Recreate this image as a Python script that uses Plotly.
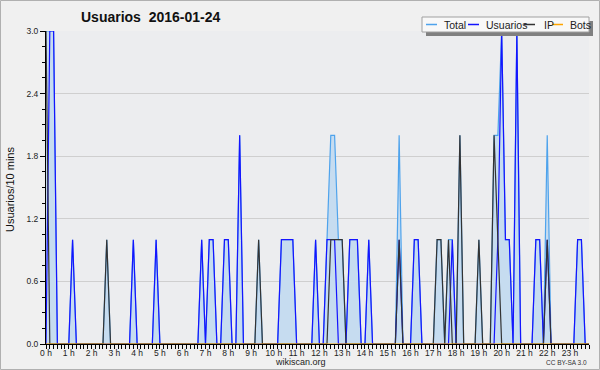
import plotly.graph_objects as go

# 10-minute slots for 2016-01-24 (144 slots, 00:00 .. 23:50)
total = [
    3, 3, 3, 0, 0, 0, 0, 1, 0, 0, 0, 0,
    0, 0, 0, 0, 1, 0, 0, 0, 0, 0, 0, 1,
    0, 0, 0, 0, 0, 1, 0, 0, 0, 0, 0, 0,
    0, 0, 0, 0, 0, 1, 0, 1, 1, 0, 0, 1,
    1, 0, 0, 2, 0, 0, 0, 0, 1, 0, 0, 0,
    0, 0, 1, 1, 1, 1, 0, 0, 0, 0, 0, 1,
    0, 0, 1, 2, 2, 1, 1, 0, 1, 1, 1, 0,
    0, 1, 0, 0, 0, 0, 0, 0, 0, 2, 0, 0,
    0, 1, 1, 0, 0, 0, 0, 1, 1, 0, 1, 1,
    0, 2, 0, 0, 0, 0, 1, 0, 0, 0, 2, 2,
    3, 1, 1, 0, 3, 0, 0, 0, 0, 1, 1, 0,
    2, 0, 0, 0, 0, 0, 0, 0, 1, 1, 0, 0,
]
usuarios = [
    0, 3, 3, 0, 0, 0, 0, 1, 0, 0, 0, 0,
    0, 0, 0, 0, 0, 0, 0, 0, 0, 0, 0, 1,
    0, 0, 0, 0, 0, 1, 0, 0, 0, 0, 0, 0,
    0, 0, 0, 0, 0, 1, 0, 1, 1, 0, 0, 1,
    1, 0, 0, 2, 0, 0, 0, 0, 0, 0, 0, 0,
    0, 0, 1, 1, 1, 1, 0, 0, 0, 0, 0, 1,
    0, 0, 1, 1, 1, 0, 0, 0, 1, 1, 1, 0,
    0, 1, 0, 0, 0, 0, 0, 0, 0, 1, 0, 0,
    0, 1, 1, 0, 0, 0, 0, 0, 0, 0, 0, 1,
    0, 0, 0, 0, 0, 0, 0, 0, 0, 0, 0, 1,
    3, 1, 1, 0, 3, 0, 0, 0, 0, 1, 1, 0,
    1, 0, 0, 0, 0, 0, 0, 0, 1, 1, 0, 0,
]
ip = [
    3, 0, 0, 0, 0, 0, 0, 0, 0, 0, 0, 0,
    0, 0, 0, 0, 1, 0, 0, 0, 0, 0, 0, 0,
    0, 0, 0, 0, 0, 0, 0, 0, 0, 0, 0, 0,
    0, 0, 0, 0, 0, 0, 0, 0, 0, 0, 0, 0,
    0, 0, 0, 0, 0, 0, 0, 0, 1, 0, 0, 0,
    0, 0, 0, 0, 0, 0, 0, 0, 0, 0, 0, 0,
    0, 0, 0, 1, 1, 1, 1, 0, 0, 0, 0, 0,
    0, 0, 0, 0, 0, 0, 0, 0, 0, 1, 0, 0,
    0, 0, 0, 0, 0, 0, 0, 1, 1, 0, 1, 0,
    0, 2, 0, 0, 0, 0, 1, 0, 0, 0, 2, 1,
    0, 0, 0, 0, 0, 0, 0, 0, 0, 0, 0, 0,
    1, 0, 0, 0, 0, 0, 0, 0, 0, 0, 0, 0,
]
bots = [0] * 144

hours = [i / 6 for i in range(len(total))]

title_text = "Usuarios\u00a0\u00a02016-01-24"
y_title = "Usuarios/10 mins"
series_names = ["Total", "Usuarios", "IP", "Bots"]
series_colors = ["#4ea3ec", "#1414ff", "#333333", "#ffa500"]

FONT = "Liberation Sans"

fig = go.Figure()
fig.add_trace(go.Scatter(x=hours, y=total, mode="lines", name="Total",
                         line=dict(color=series_colors[0], width=1.2),
                         fill="tozeroy", fillcolor="#c6dcf0"))
fig.add_trace(go.Scatter(x=hours, y=usuarios, mode="lines", name="Usuarios",
                         line=dict(color=series_colors[1], width=1.2)))
fig.add_trace(go.Scatter(x=hours, y=ip, mode="lines", name="IP",
                         line=dict(color=series_colors[2], width=1.2)))
fig.add_trace(go.Scatter(x=hours, y=bots, mode="lines", name="Bots",
                         line=dict(color=series_colors[3], width=1.2)))

# plot area in pixels
L, R, T, B = 46, 589, 31, 344
W, H = 600, 370


def px(x):
    return (x - L) / (R - L)


def py(y):
    return (B - y) / (B - T)


shapes = []
annotations = []

# outer border
shapes.append(dict(type="rect", xref="paper", yref="paper",
                   x0=px(0.5), x1=px(599.5), y0=py(0.5), y1=py(369.5),
                   line=dict(color="#b0b0b0", width=1), layer="below"))

# legend shadow and box
shapes.append(dict(type="rect", xref="paper", yref="paper",
                   x0=px(426), x1=px(593), y0=py(21), y1=py(36),
                   fillcolor="#808080", line=dict(width=0)))
shapes.append(dict(type="rect", xref="paper", yref="paper",
                   x0=px(422), x1=px(589), y0=py(17), y1=py(32),
                   fillcolor="#f8f8f8", line=dict(color="#a0a0a0", width=1)))
leg_items = [(426, 442), (468, 484), (524, 541.5), (552, 567.5)]
for (lx, tx), name, col in zip(leg_items, series_names, series_colors):
    shapes.append(dict(type="line", xref="paper", yref="paper",
                       x0=px(lx), x1=px(lx + 11), y0=py(24.5), y1=py(24.5),
                       line=dict(color=col, width=1.5)))
    annotations.append(dict(xref="paper", yref="paper", x=px(tx), y=py(24.5),
                            text=name, showarrow=False, xanchor="left",
                            yanchor="middle",
                            font=dict(family=FONT, size=10.5, color="#222")))

# title
annotations.append(dict(xref="paper", yref="paper", x=px(151), y=py(17),
                        text="<b>" + title_text + "</b>", showarrow=False,
                        xanchor="center", yanchor="middle",
                        font=dict(family=FONT, size=14, color="#111")))
# y axis title
annotations.append(dict(xref="paper", yref="paper", x=px(10), y=py(190),
                        text=y_title, showarrow=False, textangle=-90,
                        xanchor="center", yanchor="middle",
                        font=dict(family=FONT, size=11, color="#111")))
# footer
annotations.append(dict(xref="paper", yref="paper", x=px(300), y=py(362),
                        text="wikiscan.org", showarrow=False,
                        xanchor="center", yanchor="middle",
                        font=dict(family=FONT, size=9, color="#222")))
annotations.append(dict(xref="paper", yref="paper", x=px(589), y=py(362.5),
                        text="CC BY-SA 3.0", showarrow=False,
                        xanchor="right", yanchor="middle",
                        font=dict(family=FONT, size=6.5, color="#333")))

fig.update_layout(
    width=W, height=H,
    margin=dict(l=L, r=W - R, t=T, b=H - B, pad=0),
    paper_bgcolor="#f0f0f0",
    plot_bgcolor="#ecedef",
    showlegend=False,
    shapes=shapes,
    annotations=annotations,
    xaxis=dict(range=[0, hours[-1]], tickmode="linear", tick0=0, dtick=1,
               ticksuffix=" h", ticks="outside", ticklen=4, tickcolor="#000",
               ticklabelstandoff=-3,
               showgrid=False, zeroline=False, showline=True,
               linecolor="#000", linewidth=1,
               tickfont=dict(family=FONT, size=8.5, color="#222"),
               minor=dict(dtick=1 / 6, ticks="outside", ticklen=4,
                          tickcolor="#000", showgrid=False)),
    yaxis=dict(range=[0, 3], tickmode="linear", tick0=0, dtick=0.6,
               tickformat=".1f", ticks="outside", ticklen=5, tickcolor="#000",
               showgrid=True, gridcolor="#cfcfcf", gridwidth=1,
               zeroline=False, showline=True, linecolor="#000", linewidth=1,
               tickfont=dict(family=FONT, size=8.5, color="#222"),
               minor=dict(dtick=0.15, ticks="outside", ticklen=3,
                          tickcolor="#000", showgrid=False)),
)

fig.write_html("out.html",
               config={"displayModeBar": False},
               post_script="document.body.style.margin='0';"
                           "document.body.style.overflow='hidden';")
